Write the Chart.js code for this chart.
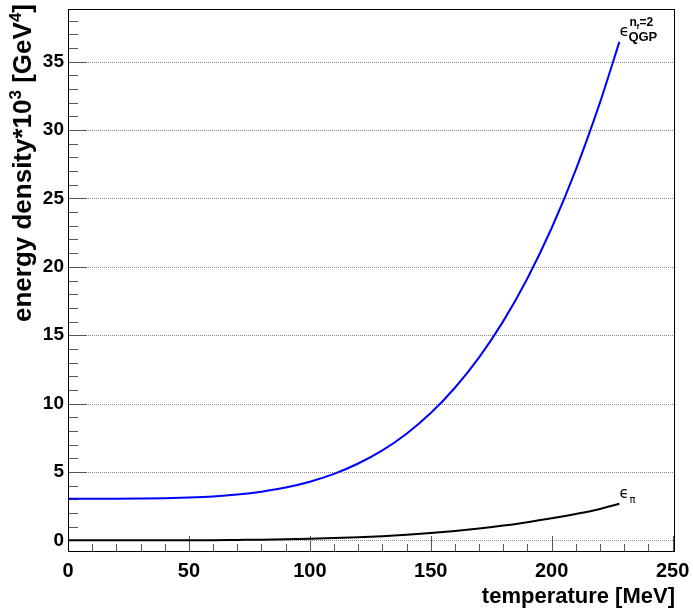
<!DOCTYPE html>
<html>
<head>
<meta charset="utf-8">
<script src="https://cdn.jsdelivr.net/npm/chart.js@4/dist/chart.umd.min.js"></script>
<style>
  html, body { margin: 0; padding: 0; background: #fff; }
  #wrap { width: 693px; height: 614px; }
</style>
</head>
<body>
<div id="wrap"><canvas id="c" width="693" height="614"></canvas></div>
<script>
// ---- data ----
const temperatures = [0,10,20,30,40,50,60,70,80,90,100,110,120,130,140,150,160,170,180,190,200,210,220,228];
const epsQGP = [3.05,3.05,3.05,3.06,3.08,3.13,3.21,3.35,3.56,3.86,4.29,4.86,5.62,6.58,7.80,9.31,11.16,13.38,16.03,19.17,22.84,27.11,32.02,36.45];
const epsPion = [0,0,0,0,0,0.003,0.01,0.03,0.05,0.08,0.12,0.17,0.23,0.31,0.41,0.54,0.69,0.87,1.08,1.33,1.61,1.93,2.30,2.68];
const xMajorTicks = [0,50,100,150,200,250];
const yMajorTicks = [0,5,10,15,20,25,30,35];
const xTitle = 'temperature [MeV]';
// y title pieces: [text, isSuperscript]
const yTitleParts = [['energy density*10', false], ['3', true], [' [GeV', false], ['4', true], [']', false]];

const FONT = "'Liberation Sans', Arial, Helvetica, sans-serif";

const decor = {
  id: 'decor',
  beforeDatasetsDraw(chart) {
    const ctx = chart.ctx, a = chart.chartArea;
    const xs = chart.scales.x, ys = chart.scales.y;
    ctx.save();
    ctx.strokeStyle = '#8a8a8a';
    ctx.lineWidth = 1;
    ctx.setLineDash([1, 1]);
    yMajorTicks.forEach(v => {
      const y = Math.round(ys.getPixelForValue(v)) + 0.5;
      ctx.beginPath(); ctx.moveTo(a.left, y); ctx.lineTo(a.right, y); ctx.stroke();
    });
    ctx.setLineDash([]);
    // ticks inside frame
    ctx.strokeStyle = '#555';
    for (let v = 0; v <= 250; v += 10) {
      const x = Math.round(xs.getPixelForValue(v)) + 0.5;
      const len = (v % 50 === 0) ? 16 : 8;
      ctx.beginPath(); ctx.moveTo(x, a.bottom); ctx.lineTo(x, a.bottom - len); ctx.stroke();
    }
    for (let v = 0; v <= 38; v += 1) {
      const y = Math.round(ys.getPixelForValue(v)) + 0.5;
      const len = (v % 5 === 0) ? 19 : 10;
      ctx.beginPath(); ctx.moveTo(a.left, y); ctx.lineTo(a.left + len, y); ctx.stroke();
    }
    ctx.restore();
  },
  afterDatasetsDraw(chart) {
    const ctx = chart.ctx, a = chart.chartArea;
    const xs = chart.scales.x, ys = chart.scales.y;
    ctx.save();
    // frame
    ctx.strokeStyle = '#000';
    ctx.lineWidth = 1;
    ctx.strokeRect(Math.round(a.left) + 0.5, Math.round(a.top) + 0.5,
                   Math.round(a.right - a.left) - 1, Math.round(a.bottom - a.top) - 1);

    // curve labels
    const n = temperatures.length - 1;
    const qx = xs.getPixelForValue(temperatures[n]);
    const qy = ys.getPixelForValue(epsQGP[n]);
    ctx.fillStyle = '#000';
    ctx.textBaseline = 'alphabetic';
    ctx.textAlign = 'left';
    ctx.font = "16px 'DejaVu Sans', sans-serif";
    ctx.fillText('\u03F5', qx + 0, qy - 6);
    ctx.font = "bold 12px " + FONT;
    ctx.fillText('n', qx + 10, qy - 16);
    ctx.font = "bold 8px " + FONT;
    ctx.fillText('f', qx + 17, qy - 13);
    ctx.font = "bold 12px " + FONT;
    ctx.fillText('=2', qx + 20, qy - 16);
    ctx.font = "bold 13px " + FONT;
    ctx.fillText('QGP', qx + 9, qy - 1);

    const px = xs.getPixelForValue(temperatures[n]);
    const py = ys.getPixelForValue(epsPion[n]);
    ctx.font = "15px 'DejaVu Sans', sans-serif";
    ctx.fillText('\u03F5', px + 0, py - 6);
    ctx.font = "10px 'DejaVu Sans', sans-serif";
    ctx.fillText('\u03C0', px + 10, py - 1);

    // y-axis title with real superscripts
    const base = 26, sup = 17;
    const widths = yTitleParts.map(([t, s]) => {
      ctx.font = 'bold ' + (s ? sup : base) + 'px ' + FONT;
      return ctx.measureText(t).width;
    });
    const total = widths.reduce((p, c) => p + c, 0);
    ctx.translate(31, 4);
    ctx.rotate(-Math.PI / 2);
    let cx = -total;
    yTitleParts.forEach(([t, s], i) => {
      ctx.font = 'bold ' + (s ? sup : base) + 'px ' + FONT;
      ctx.fillText(t, cx, s ? -10 : 0);
      cx += widths[i];
    });
    ctx.restore();
  }
};

new Chart(document.getElementById('c'), {
  type: 'line',
  data: {
    datasets: [
      {
        label: 'QGP',
        data: temperatures.map((t, i) => ({ x: t, y: epsQGP[i] })),
        borderColor: '#0000ff',
        borderWidth: 2,
        pointRadius: 0,
        cubicInterpolationMode: 'monotone',
        fill: false
      },
      {
        label: 'pion',
        data: temperatures.map((t, i) => ({ x: t, y: epsPion[i] })),
        borderColor: '#000000',
        borderWidth: 2,
        pointRadius: 0,
        cubicInterpolationMode: 'monotone',
        fill: false
      }
    ]
  },
  options: {
    responsive: false,
    animation: false,
    layout: { padding: { top: 9, right: 18, left: 0, bottom: 0 } },
    plugins: { legend: { display: false }, tooltip: { enabled: false }, title: { display: false } },
    scales: {
      x: {
        type: 'linear',
        min: 0, max: 251,
        afterBuildTicks: s => { s.ticks = xMajorTicks.map(v => ({ value: v })); },
        afterFit: s => { s.height = 62; s.paddingLeft = 0; s.paddingRight = 0; },
        grid: { display: false, drawTicks: false },
        border: { display: false },
        ticks: { color: '#000', padding: 7, maxRotation: 0, autoSkip: false,
                 font: { family: FONT, size: 20, weight: 'bold' } },
        title: { display: true, text: xTitle, align: 'end', color: '#000',
                 padding: { top: 0, bottom: 4 },
                 font: { family: FONT, size: 22, weight: 'bold' } }
      },
      y: {
        type: 'linear',
        min: -0.85, max: 38.85,
        afterBuildTicks: s => { s.ticks = yMajorTicks.map(v => ({ value: v })); },
        afterFit: s => { s.width = 68; s.paddingTop = 0; s.paddingBottom = 0; },
        grid: { display: false, drawTicks: false },
        border: { display: false },
        ticks: { color: '#000', padding: 4, autoSkip: false,
                 font: { family: FONT, size: 19, weight: 'bold' } },
        title: { display: false }
      }
    }
  },
  plugins: [decor]
});
</script>
</body>
</html>
